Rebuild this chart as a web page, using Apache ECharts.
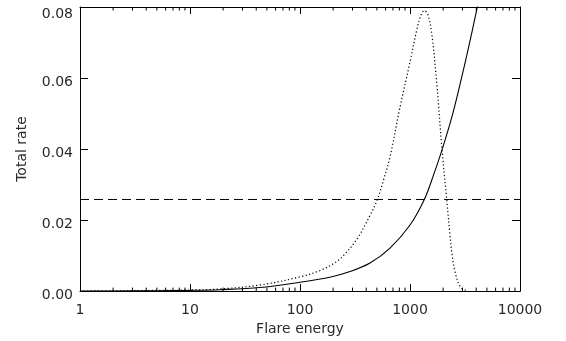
<!DOCTYPE html>
<html>
<head>
<meta charset="utf-8">
<script src="https://cdn.jsdelivr.net/npm/echarts@6/dist/echarts.min.js"></script>
<style>
html, body { margin: 0; padding: 0; background: #fff; }
#main { width: 566px; height: 341px; }
</style>
</head>
<body>
<div id="main"></div>
<script>
// flare energy / total rate
var solidE = [1, 2, 5, 10, 18.7, 43, 100, 187, 285, 433, 658, 1000, 1350, 1629, 1942, 2400, 2848, 3400, 4040, 4300];
var solidRate = [0.00002, 0.00004, 0.0001, 0.0002, 0.0004, 0.0010, 0.0025, 0.0039, 0.0055, 0.0079, 0.0121, 0.0186, 0.0258, 0.0325, 0.0395, 0.0490, 0.0582, 0.0685, 0.0792, 0.0835];

var dottedE = [1, 2, 5, 10, 18.7, 43, 100, 152, 208, 248, 327, 433, 505, 572, 658, 811, 1000, 1151, 1250, 1349, 1450, 1575, 1750, 1942, 2154, 2310, 2393, 2565, 2848, 3160, 3400];
var dottedRate = [0.00003, 0.00006, 0.0002, 0.0003, 0.0006, 0.0017, 0.0040, 0.0058, 0.0080, 0.0100, 0.0145, 0.0213, 0.0258, 0.0311, 0.0378, 0.0518, 0.0645, 0.0735, 0.0775, 0.0790, 0.0780, 0.0726, 0.0587, 0.0409, 0.0260, 0.0157, 0.0111, 0.0055, 0.0013, 0.0003, 0.0];

var dashedE = [1, 10000];
var dashedRate = [0.0258, 0.0258];

var yTicks = [0, 0.02, 0.04, 0.06, 0.08];
var xTickLabels = ['1', '10', '100', '1000', '10000'];

var yMax = 0.08;

function pairs(xs, ys) {
    var out = [];
    for (var i = 0; i < xs.length; i++) {
        out.push([xs[i], ys[i]]);
    }
    return out;
}

// minor ticks of the log axis at 2..9 of every decade
var minorTicks = [];
for (var d = 0; d < 4; d++) {
    for (var k = 2; k <= 9; k++) {
        minorTicks.push([k * Math.pow(10, d), 0]);
    }
}

var font = 'DejaVu Sans';
var textColor = '#2a2a2a';

var myChart = echarts.init(document.getElementById('main'));

var xBase = {
    type: 'log',
    logBase: 10,
    min: 1,
    max: 10000,
    axisLine: { show: true, onZero: false, lineStyle: { color: '#000', width: 1 } },
    axisTick: { show: true, inside: true, length: 7, lineStyle: { color: '#000' } },
    splitLine: { show: false }
};
var yBase = {
    type: 'value',
    min: 0,
    max: yMax,
    interval: 0.02,
    axisLine: { show: true, lineStyle: { color: '#000', width: 1 } },
    axisTick: { show: true, inside: true, length: 8, lineStyle: { color: '#000' } },
    splitLine: { show: false }
};

var labelText = { fontFamily: font, fontSize: 14, color: textColor };

myChart.setOption({
    animation: false,
    backgroundColor: '#fff',
    grid: { left: 80, right: 46, top: 7, bottom: 48 },
    xAxis: [
        Object.assign({}, xBase, {
            position: 'bottom',
            name: 'Flare energy',
            nameLocation: 'middle',
            nameGap: 23,
            nameTextStyle: labelText,
            axisLabel: {
                margin: 12,
                fontFamily: font,
                fontSize: 14,
                color: textColor,
                formatter: function (v) {
                    var i = Math.round(Math.log10(v));
                    return xTickLabels[i];
                }
            }
        }),
        Object.assign({}, xBase, {
            position: 'top',
            axisLabel: { show: false }
        })
    ],
    yAxis: [
        Object.assign({}, yBase, {
            position: 'left',
            name: 'Total rate',
            nameLocation: 'middle',
            nameGap: 51,
            nameTextStyle: labelText,
            axisLabel: {
                margin: 7,
                fontFamily: font,
                fontSize: 14,
                color: textColor,
                verticalAlign: 'top',
                formatter: function (v) {
                    var s = v.toFixed(2);
                    return (v >= yMax ? '{t|' : '{n|') + s + '}';
                },
                rich: {
                    n: { fontFamily: font, fontSize: 14, color: textColor, lineHeight: 9 },
                    t: { fontFamily: font, fontSize: 14, color: textColor, lineHeight: 14 }
                }
            }
        }),
        Object.assign({}, yBase, {
            position: 'right',
            axisLabel: { show: false }
        })
    ],
    series: [
        {
            type: 'line',
            data: pairs(solidE, solidRate),
            showSymbol: false,
            smooth: 0.35,
            clip: true,
            lineStyle: { color: '#000', width: 1.1, type: 'solid' }
        },
        {
            type: 'line',
            data: pairs(dottedE, dottedRate),
            showSymbol: false,
            smooth: 0.35,
            clip: true,
            lineStyle: { color: '#000', width: 1.2, type: [1.2, 2.4] }
        },
        {
            type: 'line',
            data: pairs(dashedE, dashedRate),
            showSymbol: false,
            lineStyle: { color: '#000', width: 1, type: [9, 5] }
        },
        {
            type: 'custom',
            data: minorTicks,
            clip: false,
            silent: true,
            renderItem: function (params, api) {
                var v = api.value(0);
                var b = api.coord([v, 0]);
                var t = api.coord([v, yMax]);
                return {
                    type: 'group',
                    children: [
                        { type: 'line', shape: { x1: b[0], y1: b[1], x2: b[0], y2: b[1] - 3.5 }, style: { stroke: '#000', lineWidth: 1 } },
                        { type: 'line', shape: { x1: t[0], y1: t[1], x2: t[0], y2: t[1] + 3.5 }, style: { stroke: '#000', lineWidth: 1 } }
                    ]
                };
            }
        }
    ]
});
</script>
</body>
</html>
